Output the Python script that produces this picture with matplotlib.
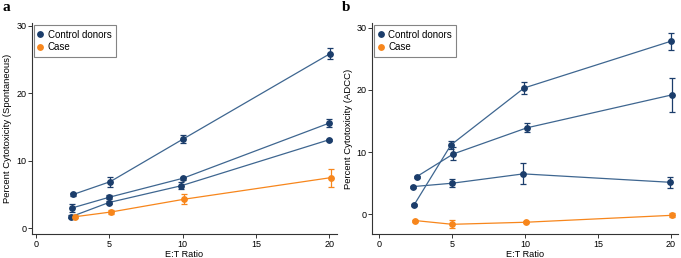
import matplotlib.pyplot as plt

plt.rcParams['font.family'] = ['Liberation Sans', 'DejaVu Sans']

NAVY = "#1b3d6b"
NAVY_LINE = "#3e6690"
ORANGE = "#f7861c"

# panel a: spontaneous cytotoxicity
a_x = [[2.52, 5.05, 10.0, 20.05],
       [2.45, 5.0, 10.0, 20.0],
       [2.38, 4.95, 9.9, 19.95]]
a_y = [[5.0, 6.9, 13.2, 25.9],
       [3.0, 4.6, 7.4, 15.6],
       [1.7, 3.8, 6.3, 13.1]]
a_err = [[0.2, 0.75, 0.6, 0.8],
         [0.55, 0.25, 0.2, 0.6],
         [0.2, 0.2, 0.5, 0.15]]
a_case_x = [2.65, 5.1, 10.1, 20.1]
a_case_y = [1.7, 2.4, 4.3, 7.5]
a_case_err = [0.2, 0.35, 0.7, 1.35]

# panel b: ADCC
b_x = [[2.4, 4.93, 9.95, 20.0],
       [2.58, 5.09, 10.14, 20.1],
       [2.3, 5.02, 9.89, 19.95]]
b_y = [[1.5, 11.15, 20.3, 27.8],
       [6.05, 9.7, 13.9, 19.2],
       [4.45, 5.0, 6.5, 5.15]]
b_err = [[0.15, 0.6, 0.9, 1.4],
         [0.15, 1.05, 0.75, 2.75],
         [0.15, 0.65, 1.7, 0.85]]
b_case_x = [2.49, 5.02, 10.05, 20.05]
b_case_y = [-1.0, -1.6, -1.27, -0.16]
b_case_err = [0.15, 0.65, 0.15, 0.3]

fig = plt.figure(figsize=(6.81, 2.58), dpi=100)
ax_a = fig.add_axes([0.0466, 0.092, 0.448, 0.818])
ax_b = fig.add_axes([0.5467, 0.092, 0.449, 0.818])

MS = 3.9


def draw(ax, xs, ys, errs, cx, cy, cerr, ylim, ylabel):
    for x, y, e in zip(xs, ys, errs):
        ax.plot(x, y, color=NAVY_LINE, lw=0.9, zorder=2)
        ax.errorbar(x, y, yerr=e, fmt='o', color=NAVY, ms=MS, elinewidth=0.9,
                    capsize=2.2, capthick=0.9, zorder=3)
    ax.plot(cx, cy, color=ORANGE, lw=0.9, zorder=2)
    ax.errorbar(cx, cy, yerr=cerr, fmt='o', color=ORANGE, ms=MS, elinewidth=0.9,
                capsize=2.2, capthick=0.9, zorder=3)
    ax.set_xlim(-0.3, 20.5)
    ax.set_ylim(*ylim)
    ax.set_xticks([0, 5, 10, 15, 20])
    ax.set_yticks([0, 10, 20, 30])
    ax.spines['top'].set_visible(False)
    ax.spines['right'].set_visible(False)
    for s in ['left', 'bottom']:
        ax.spines[s].set_color('#333333')
        ax.spines[s].set_linewidth(0.8)
    ax.tick_params(labelsize=6.5, length=3, width=0.7, color='#333333', pad=1)
    ax.set_xlabel("E:T Ratio", fontsize=6.6, labelpad=0.5)
    ax.set_ylabel(ylabel, fontsize=6.8, labelpad=3)
    h1, = ax.plot([], [], 'o', color=NAVY, ms=MS)
    h2, = ax.plot([], [], 'o', color=ORANGE, ms=MS)
    leg = ax.legend([h1, h2], ["Control donors", "Case"], loc='upper left',
                    bbox_to_anchor=(0.0, 1.0), fontsize=7, frameon=True, fancybox=False,
                    handlelength=0.5, handletextpad=0.5, borderpad=0.45,
                    labelspacing=0.3, borderaxespad=0.2)
    leg.get_frame().set_edgecolor('#666666')
    leg.get_frame().set_linewidth(0.8)


draw(ax_a, a_x, a_y, a_err, a_case_x, a_case_y, a_case_err, (-0.9, 30.4),
     "Percent Cytotoxicity (Spontaneous)")
draw(ax_b, b_x, b_y, b_err, b_case_x, b_case_y, b_case_err, (-3.2, 30.7),
     "Percent Cytotoxicity (ADCC)")
ax_b.set_xlim(-0.46, 20.5)

fig.text(0.004, 0.995, "a", fontsize=11, fontweight='bold', family='Liberation Serif', va='top')
fig.text(0.502, 0.995, "b", fontsize=11, fontweight='bold', family='Liberation Serif', va='top')

fig.savefig("out.png", dpi=100)
